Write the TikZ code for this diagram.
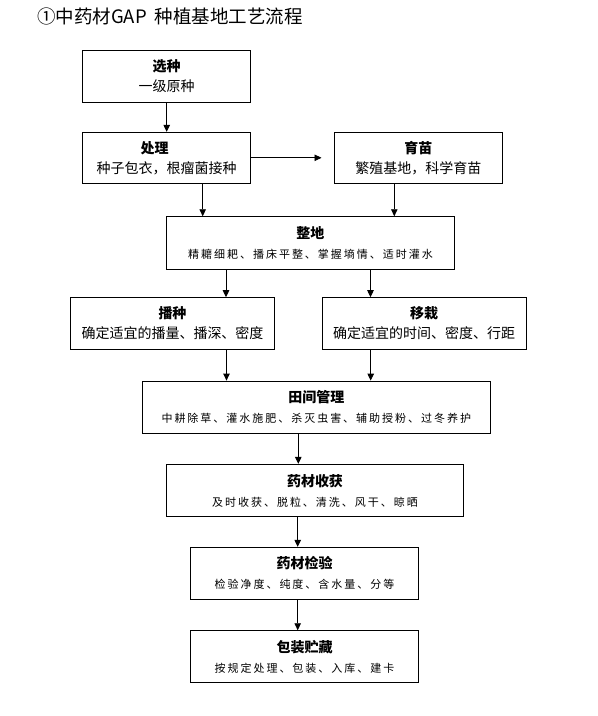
\documentclass[tikz,border=0pt]{standalone}
\usepackage{fontspec}
\setmainfont{Noto Sans CJK SC}
\newfontfamily\spfont[LetterSpace=18]{Noto Sans CJK SC}
\usetikzlibrary{arrows.meta}
\begin{document}
\begin{tikzpicture}[x=1pt,y=-1pt,
  box/.style={draw,line width=0.9pt,inner sep=0pt,align=center,
    font=\fontsize{14}{20}\selectfont},
  arr/.style={line width=0.9pt,-{Triangle[length=7pt,width=6.5pt]}},
  ln/.style={line width=0.9pt}]
\useasboundingbox (0,0) rectangle (598,716);
\newcommand{\sm}{\spfont\fontsize{11}{20}\selectfont}
\node[anchor=west,inner sep=0pt,font=\fontsize{18.5}{20}\selectfont] (title) at (37,16.5) {①中药材GAP\hspace{4pt} 种植基地工艺流程};
\node[box,minimum width=168,minimum height=52] (xz) at (166.7,76) {\textbf{选种}\\一级原种};
\node[box,minimum width=168,minimum height=51] (cl) at (166.7,157.8) {\textbf{处理}\hspace*{24pt}\\种子包衣，根瘤菌接种};
\node[box,minimum width=168.7,minimum height=51] (ym) at (418.3,157.8) {\textbf{育苗}\\繁殖基地，科学育苗};
\node[box,minimum width=287.6,minimum height=52.6] (zd) at (310.5,243) {\textbf{整地}\\\sm 精耱细耙、播床平整、掌握墒情、适时灌水};
\node[box,minimum width=203.6,minimum height=51.3] (bz) at (172.5,323.3) {\textbf{播种}\\确定适宜的播量、播深、密度};
\node[box,minimum width=203.7,minimum height=51.3] (yz) at (424.2,323.3) {\textbf{移栽}\\确定适宜的时间、密度、行距};
\node[box,minimum width=347.3,minimum height=52.3] (tj) at (316.3,407.2) {\textbf{田间管理}\\\sm 中耕除草、灌水施肥、杀灭虫害、辅助授粉、过冬养护};
\node[box,minimum width=296.6,minimum height=52.4] (sh) at (315,490.5) {\textbf{药材收获}\\\sm 及时收获、脱粒、清洗、风干、晾晒};
\node[box,minimum width=227.6,minimum height=52] (jy) at (304.5,573.3) {\textbf{药材检验}\\\sm 检验净度、纯度、含水量、分等};
\node[box,minimum width=227.6,minimum height=51.6] (bzc) at (304.5,656.5) {\textbf{包装贮藏}\\\sm 按规定处理、包装、入库、建卡};
\draw[arr] (xz.south) -- (cl.north);
\draw[arr,shorten >=12pt] (cl.east) -- (ym.west);
\draw[arr] ([xshift=36pt]cl.south) -- ([xshift=36pt]cl.south |- zd.north);
\draw[arr] ([xshift=-24pt]ym.south) -- ([xshift=-24pt]ym.south |- zd.north);
\draw[arr] ([xshift=-84.5pt]zd.south) -- ([xshift=-84.5pt]zd.south |- bz.north);
\draw[arr] ([xshift=60pt]zd.south) -- ([xshift=60pt]zd.south |- yz.north);
\draw[arr] ([xshift=54pt]bz.south) -- ([xshift=54pt]bz.south |- tj.north);
\draw[arr] ([xshift=-53.5pt]yz.south) -- ([xshift=-53.5pt]yz.south |- tj.north);
\draw[arr] ([xshift=-18pt]tj.south) -- ([xshift=-18pt]tj.south |- sh.north);
\draw[arr] ([xshift=-17.3pt]sh.south) -- ([xshift=-17.3pt]sh.south |- jy.north);
\draw[arr] ([xshift=-6.8pt]jy.south) -- ([xshift=-6.8pt]jy.south |- bzc.north);
\end{tikzpicture}
\end{document}
